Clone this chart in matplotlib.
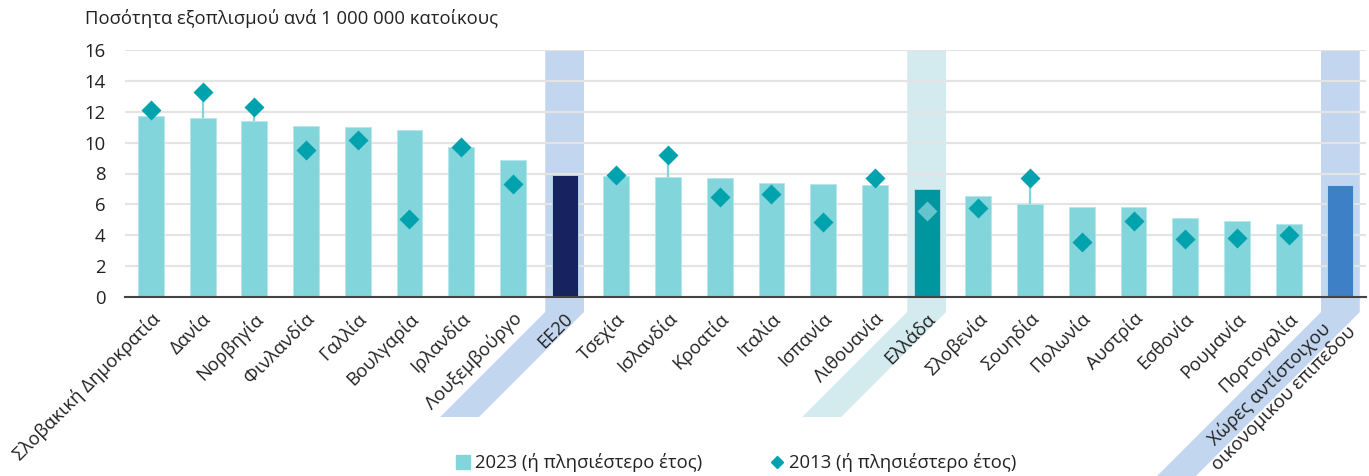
import numpy as np
import matplotlib
matplotlib.use('Agg')
import matplotlib.pyplot as plt
from matplotlib.patches import Polygon
from matplotlib.lines import Line2D

plt.rcParams['font.family'] = ['Open Sans', 'DejaVu Sans']

countries = ['Σλοβακική Δημοκρατία', 'Δανία', 'Νορβηγία', 'Φινλανδία', 'Γαλλία', 'Βουλγαρία',
             'Ιρλανδία', 'Λουξεμβούργο', 'ΕΕ20', 'Τσεχία', 'Ισλανδία', 'Κροατία', 'Ιταλία',
             'Ισπανία', 'Λιθουανία', 'Ελλάδα', 'Σλοβενία', 'Σουηδία', 'Πολωνία', 'Αυστρία',
             'Εσθονία', 'Ρουμανία', 'Πορτογαλία', 'Χώρες αντίστοιχου\nοικονομικου επιπεδου']
val_2023 = [11.7, 11.6, 11.4, 11.1, 11.0, 10.8, 9.7, 8.9, 7.9, 7.85, 7.77, 7.7, 7.36,
            7.34, 7.25, 7.0, 6.55, 6.0, 5.83, 5.8, 5.12, 4.9, 4.75, 7.25]
val_2013 = [12.1, 13.3, 12.3, 9.5, 10.2, 5.05, 9.7, 7.3, np.nan, 7.92, 9.2, 6.5, 6.7,
            4.84, 7.7, 5.6, 5.76, 7.69, 3.58, 4.9, 3.73, 3.84, 4.03, np.nan]

bar_colors = ['#82D5DB'] * len(countries)
bar_colors[8] = '#172360'
bar_colors[15] = '#0096A0'
bar_colors[23] = '#3D80C5'
highlights = {8: '#C3D6EF', 15: '#D3EAEF', 23: '#C3D6EF'}

fs = 13.3

fig = plt.figure(figsize=(13.69, 4.76), dpi=100)
ax = fig.add_axes([125 / 1369, 1 - 297 / 476, 1 - 125 / 1369 - 0.002, (297 - 50) / 476])
ax.patch.set_alpha(0)
x = np.arange(len(countries))
ax.set_xlim(-0.5, 23.5)
ax.set_ylim(0, 16)

ax.bar(x, val_2023, width=0.5, color=bar_colors, edgecolor='#B5E6EA', linewidth=0.6, zorder=3)
for i, (a, b) in enumerate(zip(val_2023, val_2013)):
    if not np.isnan(b) and b > a:
        ax.plot([i, i], [a, b], color='#82D5DB', lw=1.6, zorder=2.5)
dcol = ['#00A3AD'] * len(countries)
dcol[15] = '#63C5CB'
for i, b in enumerate(val_2013):
    if not np.isnan(b):
        ax.plot(i, b, marker='D', ms=10, color=dcol[i], mec='none', zorder=4)

ax.set_yticks(np.arange(0, 17, 2))
ax.yaxis.grid(True, color='#E4E4E4', lw=1.6, zorder=0)
ax.set_axisbelow(True)
for s in ['top', 'right', 'left']:
    ax.spines[s].set_visible(False)
ax.spines['bottom'].set_color('#444444')
ax.spines['bottom'].set_linewidth(1.5)
ax.spines['bottom'].set_zorder(5)
ax.tick_params(axis='y', length=0, pad=14, labelsize=fs, labelcolor='#222222')
ax.set_xticks([])

# highlight bands (figure pixel space)
inv = fig.transFigure.inverted()
y0 = ax.transData.transform((0, 0))[1]
ytop = ax.transData.transform((0, 16))[1]
for i, col in highlights.items():
    xl = ax.transData.transform((i - 0.375, 0))[0]
    xr = ax.transData.transform((i + 0.375, 0))[0]
    yk = y0 - 15
    d = 105 if i != 23 else 180
    pts = [(xl, ytop), (xr, ytop), (xr, yk), (xr - d, yk - d), (xl - d, yk - d), (xl, yk)]
    fig.add_artist(Polygon(inv.transform(pts), closed=True, facecolor=col, edgecolor='none',
                           transform=fig.transFigure, zorder=-1))

for i, name in enumerate(countries):
    px, py = ax.transData.transform((i, 0))
    if '\n' in name:
        px, py = inv.transform((px + 5, py - 25))
    else:
        px, py = inv.transform((px + 6, py - 19))
    fig.text(px, py, name, rotation=45, rotation_mode='anchor', ha='right', va='center',
             multialignment='center', fontsize=fs, color='#222222', linespacing=1.15)

fig.text(85 / 1369, 1 - 18 / 476, 'Ποσότητα εξοπλισμού ανά 1 000 000 κατοίκους',
         fontsize=fs, color='#222222', va='center', ha='left')

handles = [Line2D([], [], marker='s', ls='none', color='#82D5DB', ms=10),
           Line2D([], [], marker='D', ls='none', color='#00A3AD', ms=6)]
fig.legend(handles, ['2023 (ή πλησιέστερο έτος)', '2013 (ή πλησιέστερο έτος)'],
           loc='center', bbox_to_anchor=(735 / 1369, 1 - 463 / 476), ncol=2, frameon=False,
           fontsize=fs, columnspacing=3.6, handletextpad=0.1, handlelength=1.0,
           labelcolor='#222222')

fig.savefig('out.png', dpi=100)
